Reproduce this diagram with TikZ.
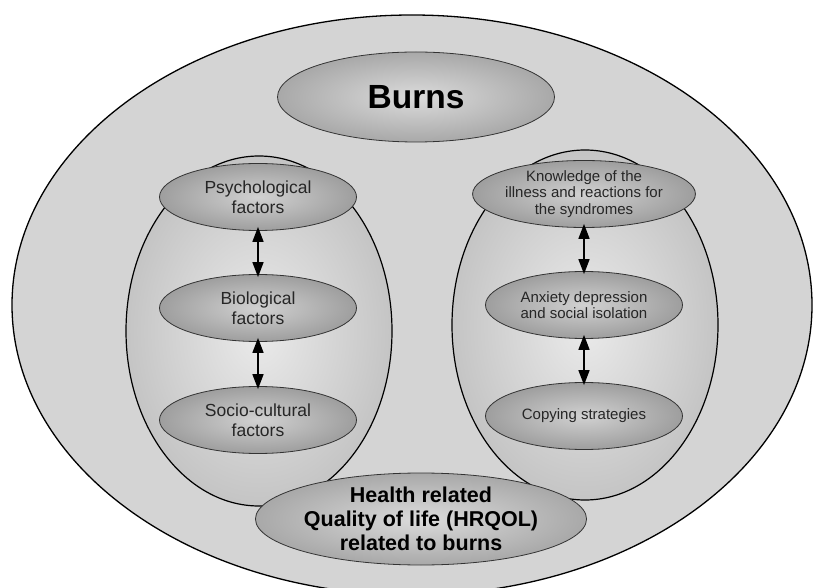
\documentclass[tikz,border=0pt]{standalone}
\usepackage{fontspec}
\setmainfont{Liberation Sans}
\usetikzlibrary{shapes.geometric,arrows.meta}
\definecolor{outerfill}{gray}{0.83}
\definecolor{bigin}{gray}{0.92}
\definecolor{bigmid}{gray}{0.74}
\definecolor{bigout}{gray}{0.50}
\definecolor{smin}{gray}{0.82}
\definecolor{smmid}{gray}{0.58}
\definecolor{smout}{gray}{0.38}
\definecolor{capin}{gray}{0.86}
\definecolor{capmid}{gray}{0.62}
\definecolor{capout}{gray}{0.38}
\pgfdeclareradialshading{bigshade}{\pgfpoint{0bp}{0bp}}{color(0bp)=(bigin); color(30bp)=(bigmid); color(50bp)=(bigout)}
\pgfdeclareradialshading{smallshade}{\pgfpoint{0bp}{0bp}}{color(0bp)=(smin); color(30bp)=(smmid); color(50bp)=(smout)}
\pgfdeclareradialshading{capshade}{\pgfpoint{0bp}{0bp}}{color(0bp)=(capin); color(30bp)=(capmid); color(50bp)=(capout)}
\tikzset{
  outerell/.style={ellipse, draw=black, line width=1.3pt, fill=outerfill, inner sep=0pt},
  bigell/.style={ellipse, draw=black, line width=1.2pt, shading=bigshade, inner sep=0pt, minimum width=266pt, minimum height=350pt},
  capell/.style={ellipse, draw=black!80, line width=0.8pt, shading=capshade, inner sep=0pt, align=center},
  smallell/.style={ellipse, draw=black!80, line width=0.8pt, shading=smallshade, inner sep=0pt, minimum width=197pt, minimum height=67pt, align=center},
  lefttext/.style={font=\fontsize{17.5}{20}\selectfont, text=black!85},
  righttext/.style={font=\fontsize{15}{16.5}\selectfont, text=black!85},
  twoway/.style={{Triangle[length=15pt,width=11pt]}-{Triangle[length=15pt,width=11pt]}, line width=1.6pt, black}
}
\begin{document}
\begin{tikzpicture}[x=1pt,y=1pt]
\useasboundingbox (0,0) rectangle (814,587);
\begin{scope}
\clip (0,0) rectangle (814,587);
\node[outerell, minimum width=800pt, minimum height=580pt] (outer) at (412,282) {};
\end{scope}
% big ellipses
\node[bigell] (left) at (259,256) {};
\node[bigell] (right) at (585,262) {};
% caption ellipses
\node[capell, minimum width=277pt, minimum height=90pt, font=\bfseries\fontsize{33.5}{35}\selectfont] (burns) at (416,490) {Burns};
\node[capell, minimum width=278pt, minimum height=92pt, font=\bfseries\fontsize{21.5}{24}\selectfont] (hrqol) at (421,68) {Health related\\Quality of life (HRQOL)\\related to burns};
% left inner
\node[smallell, lefttext] (psy) at (258,390) {Psychological\\factors};
\node[smallell, lefttext] (bio) at (258,279) {Biological\\factors};
\node[smallell, lefttext] (soc) at (258,167) {Socio-cultural\\factors};
% right inner
\node[smallell, righttext] (know) at (584,393) {Knowledge of the\\illness and reactions for\\the syndromes};
\node[smallell, righttext] (anx) at (584,282) {Anxiety depression\\and social isolation};
\node[smallell, righttext] (cop) at (584,171) {Copying strategies};
% arrows
\draw[twoway, shorten <=-4pt, shorten >=-3pt] (psy.south) -- (bio.north);
\draw[twoway, shorten <=-4pt, shorten >=-3pt] (bio.south) -- (soc.north);
\draw[twoway, shorten <=-4pt, shorten >=-3pt] (know.south) -- (anx.north);
\draw[twoway, shorten <=-4pt, shorten >=-3pt] (anx.south) -- (cop.north);
\end{tikzpicture}
\end{document}
